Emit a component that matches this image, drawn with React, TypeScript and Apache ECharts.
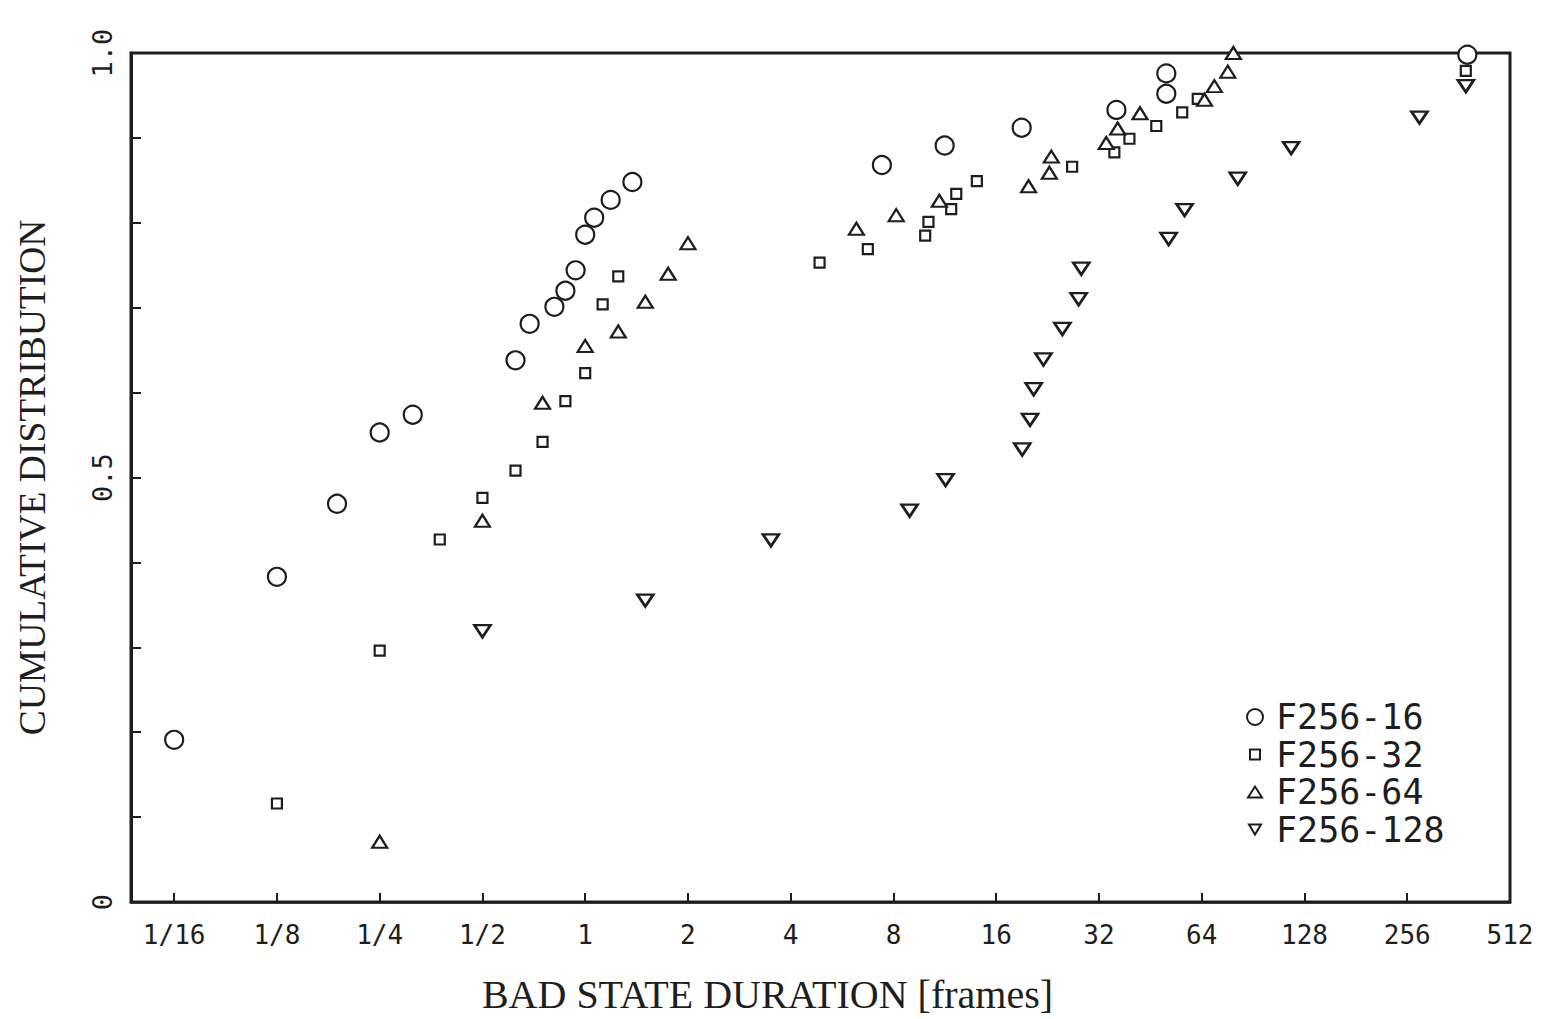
import React, { useEffect, useRef } from 'react';
import * as echarts from 'echarts';

// Series names (legend)
const seriesNames = ['F256-16', 'F256-32', 'F256-64', 'F256-128'];

// Bad state durations (frames) and cumulative distribution values
const f16Duration = [0.0625, 0.125, 0.1875, 0.25, 0.3125, 0.625, 0.6875, 0.8125, 0.875, 0.9375, 1, 1.0625, 1.1875, 1.375, 7.4, 11.3, 19, 36, 50.4, 50.4, 384];
const f16Cdf = [0.191, 0.383, 0.469, 0.553, 0.574, 0.638, 0.681, 0.701, 0.72, 0.744, 0.786, 0.806, 0.827, 0.848, 0.868, 0.891, 0.912, 0.933, 0.952, 0.976, 0.998];

const f32Duration = [0.125, 0.25, 0.375, 0.5, 0.625, 0.75, 0.875, 1, 1.125, 1.25, 4.86, 6.73, 9.91, 10.13, 11.81, 12.22, 14.04, 26.7, 35.5, 39.3, 47.1, 56.1, 62.3, 380];
const f32Cdf = [0.116, 0.296, 0.427, 0.476, 0.508, 0.542, 0.59, 0.623, 0.704, 0.737, 0.753, 0.769, 0.785, 0.801, 0.816, 0.834, 0.849, 0.866, 0.883, 0.899, 0.914, 0.93, 0.946, 0.979];

const f64Duration = [0.25, 0.5, 0.75, 1, 1.25, 1.5, 1.75, 2, 6.23, 8.15, 10.9, 19.9, 22.9, 23.2, 33.6, 36.3, 42.2, 65.2, 69.7, 76.3, 79.2];
const f64Cdf = [0.071, 0.449, 0.588, 0.655, 0.672, 0.707, 0.74, 0.776, 0.793, 0.809, 0.826, 0.843, 0.859, 0.878, 0.894, 0.911, 0.929, 0.945, 0.961, 0.978, 1.0];

const f128Duration = [0.5, 1.5, 3.5, 8.92, 11.37, 19.07, 20.1, 20.6, 22.0, 25, 27.9, 28.4, 51.2, 57, 81.6, 117, 278, 380];
const f128Cdf = [0.319, 0.355, 0.426, 0.461, 0.497, 0.533, 0.568, 0.604, 0.639, 0.675, 0.71, 0.746, 0.781, 0.815, 0.852, 0.888, 0.924, 0.961];

// Axis ticks
const xTickDurations = [1 / 16, 1 / 8, 1 / 4, 1 / 2, 1, 2, 4, 8, 16, 32, 64, 128, 256, 512];
const xTickLabels = ['1/16', '1/8', '1/4', '1/2', '1', '2', '4', '8', '16', '32', '64', '128', '256', '512'];
const yLabelValues = [0, 0.5, 1];
const yLabelTexts = ['0', '0.5', '1.0'];

const INK = '#1e1e1e';

const legendIcons = [
  'path://M0,0 M20,20 M18,10 A8,8 0 1 1 2,10 A8,8 0 1 1 18,10 Z',
  'path://M0,0 M20,20 M5,5 L15,5 L15,15 L5,15 Z',
  'path://M0,0 M20,20 M3,15.5 L17,15.5 L10,4.5 Z',
  'path://M0,0 M20,20 M4,5 L16,5 L10,15 Z',
];

export default function App() {
  const ref = useRef<HTMLDivElement>(null);

  useEffect(() => {
    if (!ref.current) return;
    const chart = echarts.init(ref.current, null, { renderer: 'svg' });

    const toPoints = (dur: number[], cdf: number[]) => dur.map((d, i) => [Math.log2(d), cdf[i]]);
    const xTickLog = xTickDurations.map((d) => Math.log2(d));

    const markerBase = { color: '#fff', borderColor: INK, opacity: 1 };

    const option: any = {
      animation: false,
      backgroundColor: '#fff',
      grid: {
        left: 131,
        right: 32,
        top: 53,
        bottom: 108,
        show: true,
        borderColor: INK,
        borderWidth: 3,
        backgroundColor: 'transparent',
      },
      xAxis: {
        type: 'value',
        min: -4.42,
        max: 9,
        name: 'BAD STATE DURATION [frames]',
        nameLocation: 'middle',
        nameGap: 72,
        nameTextStyle: {
          fontFamily: 'Liberation Serif',
          fontSize: 40,
          color: INK,
          padding: [0, 106, 0, 0],
        },
        axisLine: { show: true, onZero: false, lineStyle: { color: INK, width: 2.5 } },
        axisTick: {
          show: true,
          inside: true,
          length: 9,
          lineStyle: { color: INK, width: 2 },
          customValues: xTickLog,
        },
        axisLabel: {
          customValues: xTickLog,
          margin: 20,
          fontFamily: 'DejaVu Sans Mono',
          fontSize: 26,
          color: INK,
          formatter: (v: number) => {
            const i = xTickLog.findIndex((t) => Math.abs(t - v) < 1e-6);
            return i >= 0 ? xTickLabels[i] : '';
          },
        },
        splitLine: { show: false },
      },
      yAxis: {
        type: 'value',
        min: 0,
        max: 1,
        interval: 0.1,
        name: 'CUMULATIVE DISTRIBUTION',
        nameLocation: 'middle',
        nameGap: 80,
        nameRotate: 90,
        nameTextStyle: {
          fontFamily: 'Liberation Serif',
          fontSize: 37.5,
          color: INK,
        },
        axisLine: { show: true, onZero: false, lineStyle: { color: INK, width: 3 } },
        axisTick: { show: true, inside: true, length: 10, lineStyle: { color: INK, width: 2 } },
        axisLabel: {
          customValues: yLabelValues,
          rotate: 90,
          margin: 15,
          fontFamily: 'DejaVu Sans Mono',
          fontSize: 27,
          color: INK,
          formatter: (v: number) => {
            const i = yLabelValues.findIndex((t) => Math.abs(t - v) < 1e-6);
            return i >= 0 ? yLabelTexts[i] : '';
          },
        },
        splitLine: { show: false },
      },
      legend: {
        orient: 'vertical',
        left: 1239,
        top: 694,
        itemWidth: 20,
        itemHeight: 20,
        itemGap: 1.5,
        selectedMode: false,
        itemStyle: { color: '#fff', borderColor: INK, borderWidth: 2, opacity: 1 },
        textStyle: {
          fontFamily: 'DejaVu Sans Mono',
          fontSize: 35,
          lineHeight: 36,
          color: INK,
          padding: [0, 0, 0, 6],
        },
        data: seriesNames.map((n, i) => ({ name: n, icon: legendIcons[i] })),
      },
      series: [
        {
          name: seriesNames[0],
          type: 'scatter',
          clip: false,
          symbol: 'circle',
          symbolSize: 18,
          itemStyle: { ...markerBase, borderWidth: 2.2 },
          data: toPoints(f16Duration, f16Cdf),
        },
        {
          name: seriesNames[1],
          type: 'scatter',
          clip: false,
          symbol: 'rect',
          symbolSize: 10,
          itemStyle: { ...markerBase, borderWidth: 2.2 },
          data: toPoints(f32Duration, f32Cdf),
        },
        {
          name: seriesNames[2],
          type: 'scatter',
          clip: false,
          symbol: 'triangle',
          symbolSize: [15, 12],
          itemStyle: { ...markerBase, borderWidth: 2.2 },
          data: toPoints(f64Duration, f64Cdf),
        },
        {
          name: seriesNames[3],
          type: 'scatter',
          clip: false,
          symbol: 'triangle',
          symbolRotate: 180,
          symbolSize: [16, 12],
          itemStyle: { ...markerBase, borderWidth: 2.6 },
          data: toPoints(f128Duration, f128Cdf),
        },
      ],
    };

    chart.setOption(option);
    return () => chart.dispose();
  }, []);

  return (
    <div
      ref={ref}
      style={{ position: 'fixed', left: 0, top: 0, width: 1542, height: 1019, background: '#fff' }}
    />
  );
}
